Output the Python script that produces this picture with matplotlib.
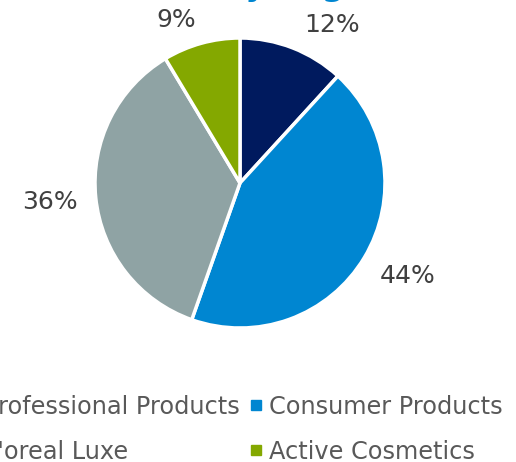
import matplotlib.pyplot as plt
from matplotlib.lines import Line2D
import numpy as np

segments = ["Professional Products", "Consumer Products", "L'oreal Luxe", "Active Cosmetics"]
shares = [11.8, 43.6, 36.0, 8.6]
pct_labels = ["12%", "44%", "36%", "9%"]
colors = ["#001a5e", "#0086d1", "#8fa3a4", "#84a800"]

fig = plt.figure(figsize=(5.16, 4.62), dpi=100)

# pie axes: centre ~ (240,183) px, radius ~145 px
ax = fig.add_axes([95 / 516, 1 - 328 / 462, 290 / 516, 290 / 462])
wedges, _ = ax.pie(shares, colors=colors, startangle=90, counterclock=False,
                   wedgeprops=dict(edgecolor="white", linewidth=2.5))
ax.set_xlim(-1, 1)
ax.set_ylim(-1, 1)
ax.set_aspect("equal")

# label placement (angle nudge in deg, distance in radii)
nudges = [(-9, 1.26), (2, 1.32), (0, 1.32), (6, 1.21)]
for w, lab, (da, dist) in zip(wedges, pct_labels, nudges):
    mid = np.deg2rad((w.theta1 + w.theta2) / 2 + da)
    ax.text(dist * np.cos(mid), dist * np.sin(mid), lab, ha="center", va="center",
            fontsize=18, color="#404040", clip_on=False)

# title mostly clipped off the top edge
fig.text(0.535, 1.011, "Sales by Segment", ha="center", va="baseline",
         fontsize=23, fontweight="bold", color="#0086d1")

handles = [Line2D([], [], marker="s", linestyle="none", markersize=6.5,
                  markerfacecolor=c, markeredgecolor=c) for c in colors]
# legend fills column by column, so reorder to read row by row
order = [0, 2, 1, 3]
fig.legend([handles[i] for i in order], [segments[i] for i in order], ncol=2,
           loc="center right", bbox_to_anchor=(1.016, 0.071),
           frameon=False, fontsize=17.3, labelcolor="#595959", handlelength=0.5,
           handletextpad=0.31, columnspacing=0.39, labelspacing=0.88)

fig.savefig("out.png", dpi=100)
